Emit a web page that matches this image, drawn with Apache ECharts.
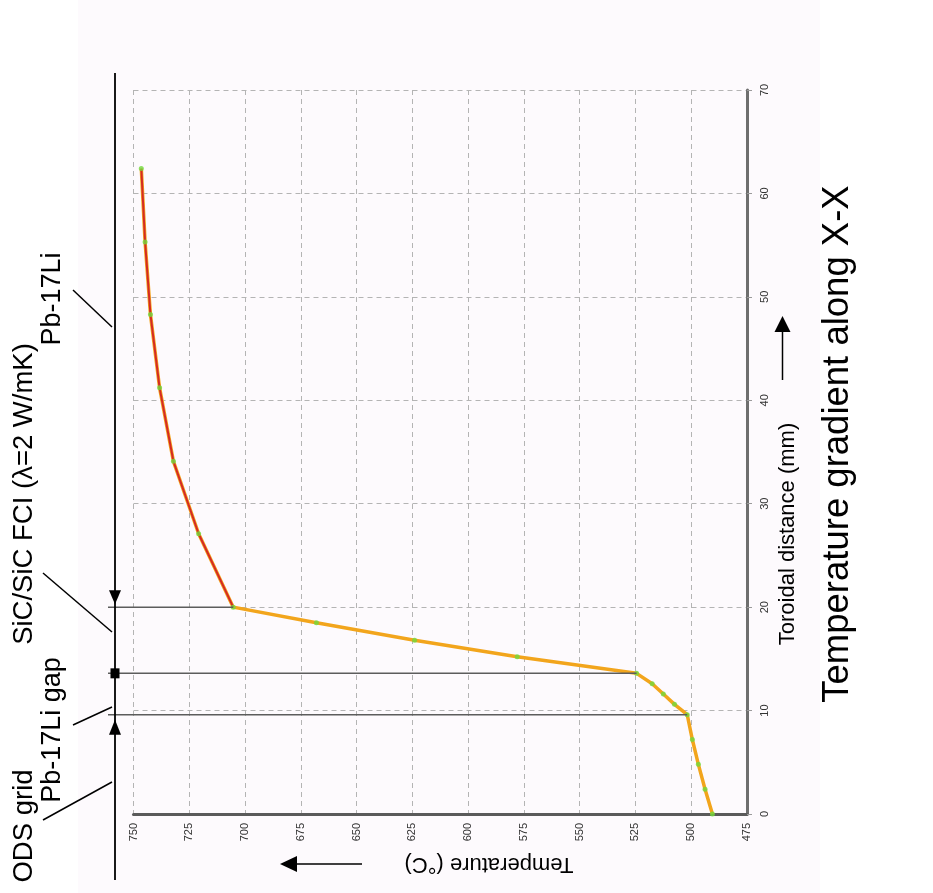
<!DOCTYPE html>
<html>
<head>
<meta charset="utf-8">
<script src="https://cdn.jsdelivr.net/npm/echarts@6/dist/echarts.min.js"></script>
<style>
  html, body { margin: 0; padding: 0; background: #ffffff; }
  #chart { width: 933px; height: 893px; }
</style>
</head>
<body>
<div id="chart"></div>
<script>
// Temperature profile along section X-X, from the ODS grid into the Pb-17Li channel
const distanceMm   = [0, 2.4, 4.8, 7.2, 9.6, 10.6, 11.6, 12.6, 13.6, 15.2, 16.8, 18.5, 20.0, 27.1, 34.1, 41.2, 48.3, 55.3, 62.4];
const temperatureC = [490.5, 493.8, 496.8, 499.5, 501.8, 507.5, 512.5, 517.5, 524.5, 578, 624, 668, 705.3, 720.8, 732.1, 738.3, 742.4, 744.8, 746.5];

// Layer boundaries (mm): ODS grid | Pb-17Li gap | SiC/SiC FCI | Pb-17Li
const layerBoundsMm = [9.6, 13.6, 20.0];
const pbLiStartMm = 20.0;

// Axis tick values
const temperatureTicks = [475, 500, 525, 550, 575, 600, 625, 650, 675, 700, 725, 750];
const distanceTicks    = [0, 10, 20, 30, 40, 50, 60, 70];

const FONT = '"Liberation Sans", Arial, Helvetica, sans-serif';

const allPoints  = distanceMm.map((d, i) => [temperatureC[i], d]);
const bulkPoints = allPoints.filter(p => p[1] >= pbLiStartMm);

const chart = echarts.init(document.getElementById('chart'), null, { renderer: 'canvas' });

const gridDash = { color: '#b4b4b4', width: 1, type: [5, 4] };

chart.setOption({
  animation: false,
  backgroundColor: '#ffffff',
  grid: { left: 133.5, right: 186, top: 90, bottom: 79, containLabel: false },
  xAxis: {
    type: 'value',
    inverse: true,
    min: temperatureTicks[0],
    max: temperatureTicks[temperatureTicks.length - 1],
    interval: temperatureTicks[1] - temperatureTicks[0],
    position: 'bottom',
    axisLine: { show: true, onZero: false, lineStyle: { color: '#5a5a5a', width: 3 } },
    axisTick: { show: false },
    axisLabel: { rotate: 90, fontSize: 11, color: '#333', fontFamily: FONT, margin: 9 },
    splitLine: { show: true, lineStyle: gridDash }
  },
  yAxis: {
    type: 'value',
    min: distanceTicks[0],
    max: distanceTicks[distanceTicks.length - 1],
    interval: distanceTicks[1] - distanceTicks[0],
    position: 'right',
    axisLine: { show: true, onZero: false, lineStyle: { color: '#6e6e6e', width: 3 } },
    axisTick: { show: true, length: 5, lineStyle: { color: '#9a9a9a', width: 1 } },
    axisLabel: { rotate: 90, fontSize: 11, color: '#333', fontFamily: FONT, margin: 12 },
    splitLine: { show: true, lineStyle: gridDash }
  },
  series: [
    {
      name: 'profile',
      type: 'line',
      data: allPoints,
      showSymbol: false,
      lineStyle: { color: '#f2a51c', width: 3.5 },
      z: 3
    },
    {
      name: 'Pb-17Li',
      type: 'line',
      data: bulkPoints,
      showSymbol: false,
      lineStyle: { color: '#d52a24', width: 2 },
      z: 4
    },
    {
      name: 'nodes',
      type: 'scatter',
      data: allPoints,
      symbol: 'circle',
      symbolSize: 5,
      itemStyle: { color: '#72d83c' },
      z: 5
    }
  ]
});

// Annotations placed through the chart's own coordinate system
const px = (t, d) => chart.convertToPixel({ gridIndex: 0 }, [t, d]);
const tempAt = d => temperatureC[distanceMm.indexOf(d)];

const railX = 115;
const g = [];

// faint panel behind the plot
g.push({ type: 'rect', z: -10, silent: true,
  shape: { x: 78, y: 0, width: 742, height: 893 },
  style: { fill: '#fdfafd' } });

// layer boundary lines
layerBoundsMm.forEach(d => {
  const p = px(tempAt(d), d);
  g.push({ type: 'line', z: 50,
    shape: { x1: 108, y1: p[1], x2: p[0], y2: p[1] },
    style: { stroke: '#5c5c5c', lineWidth: 1.5 } });
});

// black rail on the left
g.push({ type: 'line', z: 60,
  shape: { x1: railX, y1: 73, x2: railX, y2: 880 },
  style: { stroke: '#000', lineWidth: 1.8 } });

const yFci = px(tempAt(layerBoundsMm[2]), layerBoundsMm[2])[1];
const yGap = px(tempAt(layerBoundsMm[1]), layerBoundsMm[1])[1];
const yOds = px(tempAt(layerBoundsMm[0]), layerBoundsMm[0])[1];

// down arrow above the FCI / Pb-17Li boundary
g.push({ type: 'polygon', z: 61,
  shape: { points: [[railX - 6, yFci - 17], [railX + 6, yFci - 17], [railX, yFci - 3]] },
  style: { fill: '#000' } });
// square on the gap / FCI boundary
g.push({ type: 'rect', z: 61,
  shape: { x: railX - 4.5, y: yGap - 5, width: 9, height: 10 },
  style: { fill: '#000' } });
// up arrow below the ODS / gap boundary
g.push({ type: 'polygon', z: 61,
  shape: { points: [[railX - 6, yOds + 20], [railX + 6, yOds + 20], [railX, yOds + 5]] },
  style: { fill: '#000' } });

// leader lines
[[73, 290, 112, 327], [43, 573, 112, 632], [73, 725, 112, 707], [43, 820, 112, 782]].forEach(s => {
  g.push({ type: 'line', z: 60,
    shape: { x1: s[0], y1: s[1], x2: s[2], y2: s[3] },
    style: { stroke: '#000', lineWidth: 1.5 } });
});

// layer labels
const vtext = (x, y, text, size, rot) => ({
  type: 'text', z: 70, x: x, y: y, rotation: rot,
  style: { text: text, fill: '#000', font: size + 'px ' + FONT, align: 'center', verticalAlign: 'middle' }
});
g.push(vtext(24, 826, 'ODS grid', 27.5, Math.PI / 2));
g.push(vtext(53, 730, 'Pb-17Li gap', 27, Math.PI / 2));
g.push(vtext(24, 494, 'SiC/SiC FCI (\u03bb=2 W/mK)', 27.5, Math.PI / 2));
g.push(vtext(53, 299, 'Pb-17Li', 27, Math.PI / 2));

// axis titles
g.push(vtext(788, 534, 'Toroidal distance (mm)', 22, Math.PI / 2));
g.push(vtext(489, 864, 'Temperature (\u00b0C)', 22, Math.PI));
g.push(vtext(838, 444, 'Temperature gradient along X-X', 36.5, Math.PI / 2));

// direction arrows next to the axis titles
g.push({ type: 'line', z: 60, shape: { x1: 362, y1: 864, x2: 294, y2: 864 },
  style: { stroke: '#000', lineWidth: 1.5 } });
g.push({ type: 'polygon', z: 61,
  shape: { points: [[280, 864], [297, 856], [297, 872]] }, style: { fill: '#000' } });
g.push({ type: 'line', z: 60, shape: { x1: 782.5, y1: 380, x2: 782.5, y2: 330 },
  style: { stroke: '#000', lineWidth: 1.5 } });
g.push({ type: 'polygon', z: 61,
  shape: { points: [[782.5, 316], [774.5, 332], [790.5, 332]] }, style: { fill: '#000' } });

chart.setOption({ graphic: g });
</script>
</body>
</html>
